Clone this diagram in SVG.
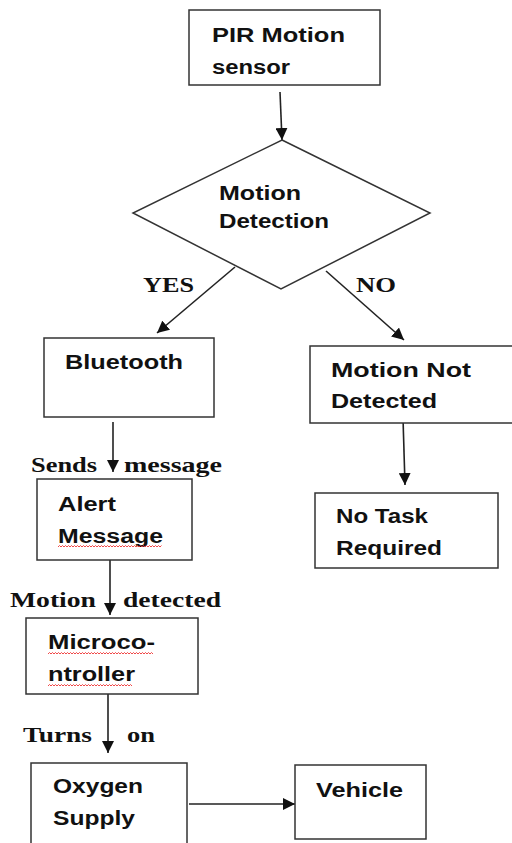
<svg xmlns="http://www.w3.org/2000/svg" width="512" height="843" viewBox="0 0 512 843">
<style>
.box{fill:#fff;stroke:#333;stroke-width:1.5}
.t{font-family:"Liberation Sans",Arial,sans-serif;font-weight:bold;font-size:20px;fill:#111}
.s{font-family:"Liberation Serif","Times New Roman",serif;font-weight:bold;font-size:21px;fill:#111}
.c{stroke:#222;stroke-width:1.6;fill:none}
.sq{stroke:#e33;stroke-width:0.9;fill:none}
</style>
<defs>
<marker id="ah" viewBox="0 0 10 10" refX="10" refY="5" markerWidth="7.5" markerHeight="7.5" markerUnits="strokeWidth" orient="auto">
<path d="M0,0 L10,5 L0,10 z" fill="#111"/>
</marker>
</defs>
<rect width="512" height="843" fill="#fff"/>
<g id="connectors">
<line class="c" x1="280" y1="92" x2="282" y2="140" marker-end="url(#ah)"/>
<line class="c" x1="235" y1="267" x2="157" y2="333" marker-end="url(#ah)"/>
<line class="c" x1="326" y1="271" x2="404" y2="340" marker-end="url(#ah)"/>
<line class="c" x1="113" y1="422" x2="113" y2="472" marker-end="url(#ah)"/>
<line class="c" x1="403" y1="418" x2="405" y2="485" marker-end="url(#ah)"/>
<line class="c" x1="110" y1="560" x2="110" y2="615" marker-end="url(#ah)"/>
<line class="c" x1="108" y1="694" x2="108" y2="753" marker-end="url(#ah)"/>
<line class="c" x1="189" y1="804" x2="295" y2="804" marker-end="url(#ah)"/>
</g>
<g id="labels">
<text class="s" x="143" y="292" textLength="51" lengthAdjust="spacingAndGlyphs">YES</text>
<text class="s" x="356" y="292" textLength="40" lengthAdjust="spacingAndGlyphs">NO</text>
<text class="s" x="31" y="472" textLength="66" lengthAdjust="spacingAndGlyphs">Sends</text>
<text class="s" x="124" y="472" textLength="98" lengthAdjust="spacingAndGlyphs">message</text>
<text class="s" x="10" y="607" textLength="86" lengthAdjust="spacingAndGlyphs">Motion</text>
<text class="s" x="123" y="607" textLength="98" lengthAdjust="spacingAndGlyphs">detected</text>
<text class="s" x="23" y="742" textLength="69" lengthAdjust="spacingAndGlyphs">Turns</text>
<text class="s" x="127" y="742" textLength="28" lengthAdjust="spacingAndGlyphs">on</text>
</g>
<g id="pir">
<rect class="box" x="189" y="10" width="191" height="75"/>
<text class="t" x="212" y="42" textLength="133" lengthAdjust="spacingAndGlyphs">PIR Motion</text>
<text class="t" x="212" y="74" textLength="78" lengthAdjust="spacingAndGlyphs">sensor</text>
</g>
<g id="decision">
<polygon class="box" points="282,140 430,213 281,289 133,213"/>
<text class="t" x="219" y="200" textLength="82" lengthAdjust="spacingAndGlyphs">Motion</text>
<text class="t" x="219" y="228" textLength="110" lengthAdjust="spacingAndGlyphs">Detection</text>
</g>
<g id="bluetooth">
<rect class="box" x="44" y="338" width="170" height="79"/>
<text class="t" x="65" y="369" textLength="118" lengthAdjust="spacingAndGlyphs">Bluetooth</text>
</g>
<g id="notdetected">
<rect class="box" x="310" y="346" width="206" height="77"/>
<text class="t" x="331" y="377" textLength="140" lengthAdjust="spacingAndGlyphs">Motion Not</text>
<text class="t" x="331" y="408" textLength="106" lengthAdjust="spacingAndGlyphs">Detected</text>
</g>
<g id="alert">
<rect class="box" x="37" y="479" width="155" height="81"/>
<text class="t" x="58" y="511" textLength="58" lengthAdjust="spacingAndGlyphs">Alert</text>
<text class="t" x="58" y="543" textLength="105" lengthAdjust="spacingAndGlyphs">Message</text>
<path class="sq" d="M58,547 l1.5,-1.5 l1.5,1.5 l1.5,-1.5 l1.5,1.5 l1.5,-1.5 l1.5,1.5 l1.5,-1.5 l1.5,1.5 l1.5,-1.5 l1.5,1.5 l1.5,-1.5 l1.5,1.5 l1.5,-1.5 l1.5,1.5 l1.5,-1.5 l1.5,1.5 l1.5,-1.5 l1.5,1.5 l1.5,-1.5 l1.5,1.5 l1.5,-1.5 l1.5,1.5 l1.5,-1.5 l1.5,1.5 l1.5,-1.5 l1.5,1.5 l1.5,-1.5 l1.5,1.5 l1.5,-1.5 l1.5,1.5 l1.5,-1.5 l1.5,1.5 l1.5,-1.5 l1.5,1.5 l1.5,-1.5 l1.5,1.5 l1.5,-1.5 l1.5,1.5 l1.5,-1.5 l1.5,1.5 l1.5,-1.5 l1.5,1.5 l1.5,-1.5 l1.5,1.5 l1.5,-1.5 l1.5,1.5 l1.5,-1.5 l1.5,1.5 l1.5,-1.5 l1.5,1.5 l1.5,-1.5 l1.5,1.5 l1.5,-1.5 l1.5,1.5 l1.5,-1.5 l1.5,1.5 l1.5,-1.5 l1.5,1.5 l1.5,-1.5 l1.5,1.5 l1.5,-1.5 l1.5,1.5 l1.5,-1.5 l1.5,1.5 l1.5,-1.5 l1.5,1.5 l1.5,-1.5 l1.5,1.5 l1.5,-1.5"/>
</g>
<g id="notask">
<rect class="box" x="315" y="493" width="183" height="75"/>
<text class="t" x="336" y="523" textLength="92" lengthAdjust="spacingAndGlyphs">No Task</text>
<text class="t" x="336" y="555" textLength="106" lengthAdjust="spacingAndGlyphs">Required</text>
</g>
<g id="micro">
<rect class="box" x="26" y="618" width="172" height="76"/>
<text class="t" x="48" y="649" textLength="107" lengthAdjust="spacingAndGlyphs">Microco-</text>
<text class="t" x="48" y="681" textLength="87" lengthAdjust="spacingAndGlyphs">ntroller</text>
<path class="sq" d="M48,654 l1.5,-1.5 l1.5,1.5 l1.5,-1.5 l1.5,1.5 l1.5,-1.5 l1.5,1.5 l1.5,-1.5 l1.5,1.5 l1.5,-1.5 l1.5,1.5 l1.5,-1.5 l1.5,1.5 l1.5,-1.5 l1.5,1.5 l1.5,-1.5 l1.5,1.5 l1.5,-1.5 l1.5,1.5 l1.5,-1.5 l1.5,1.5 l1.5,-1.5 l1.5,1.5 l1.5,-1.5 l1.5,1.5 l1.5,-1.5 l1.5,1.5 l1.5,-1.5 l1.5,1.5 l1.5,-1.5 l1.5,1.5 l1.5,-1.5 l1.5,1.5 l1.5,-1.5 l1.5,1.5 l1.5,-1.5 l1.5,1.5 l1.5,-1.5 l1.5,1.5 l1.5,-1.5 l1.5,1.5 l1.5,-1.5 l1.5,1.5 l1.5,-1.5 l1.5,1.5 l1.5,-1.5 l1.5,1.5 l1.5,-1.5 l1.5,1.5 l1.5,-1.5 l1.5,1.5 l1.5,-1.5 l1.5,1.5 l1.5,-1.5 l1.5,1.5 l1.5,-1.5 l1.5,1.5 l1.5,-1.5 l1.5,1.5 l1.5,-1.5 l1.5,1.5 l1.5,-1.5 l1.5,1.5 l1.5,-1.5 l1.5,1.5 l1.5,-1.5 l1.5,1.5 l1.5,-1.5 l1.5,1.5 l1.5,-1.5 l1.5,1.5"/>
<path class="sq" d="M48,686 l1.5,-1.5 l1.5,1.5 l1.5,-1.5 l1.5,1.5 l1.5,-1.5 l1.5,1.5 l1.5,-1.5 l1.5,1.5 l1.5,-1.5 l1.5,1.5 l1.5,-1.5 l1.5,1.5 l1.5,-1.5 l1.5,1.5 l1.5,-1.5 l1.5,1.5 l1.5,-1.5 l1.5,1.5 l1.5,-1.5 l1.5,1.5 l1.5,-1.5 l1.5,1.5 l1.5,-1.5 l1.5,1.5 l1.5,-1.5 l1.5,1.5 l1.5,-1.5 l1.5,1.5 l1.5,-1.5 l1.5,1.5 l1.5,-1.5 l1.5,1.5 l1.5,-1.5 l1.5,1.5 l1.5,-1.5 l1.5,1.5 l1.5,-1.5 l1.5,1.5 l1.5,-1.5 l1.5,1.5 l1.5,-1.5 l1.5,1.5 l1.5,-1.5 l1.5,1.5 l1.5,-1.5 l1.5,1.5 l1.5,-1.5 l1.5,1.5 l1.5,-1.5 l1.5,1.5 l1.5,-1.5 l1.5,1.5 l1.5,-1.5 l1.5,1.5 l1.5,-1.5 l1.5,1.5"/>
</g>
<g id="oxygen">
<rect class="box" x="31" y="763" width="156" height="90"/>
<text class="t" x="53" y="793" textLength="90" lengthAdjust="spacingAndGlyphs">Oxygen</text>
<text class="t" x="53" y="825" textLength="82" lengthAdjust="spacingAndGlyphs">Supply</text>
</g>
<g id="vehicle">
<rect class="box" x="295" y="765" width="131" height="74"/>
<text class="t" x="316" y="797" textLength="87" lengthAdjust="spacingAndGlyphs">Vehicle</text>
</g>
</svg>
